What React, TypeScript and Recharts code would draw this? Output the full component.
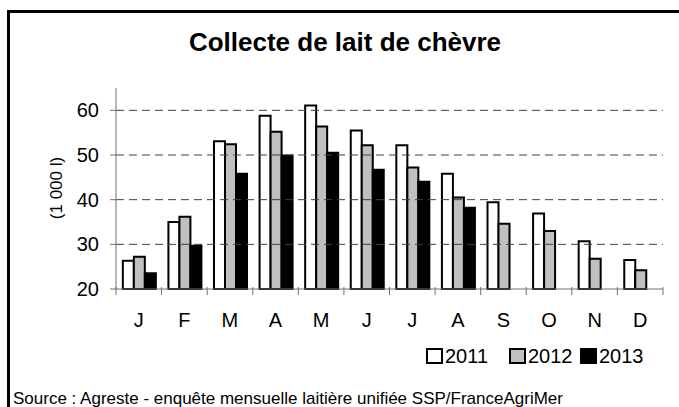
import { BarChart, Bar, XAxis, YAxis, ReferenceLine, Label } from 'recharts';

const months = ['J', 'F', 'M', 'A', 'M', 'J', 'J', 'A', 'S', 'O', 'N', 'D'];
const values2011 = [26.3, 35.0, 53.1, 58.8, 61.1, 55.5, 52.2, 45.8, 39.4, 36.9, 30.7, 26.5];
const values2012 = [27.2, 36.2, 52.4, 55.2, 56.4, 52.2, 47.2, 40.5, 34.6, 33.0, 26.8, 24.2];
const values2013 = [23.5, 29.7, 45.8, 49.9, 50.5, 46.7, 44.0, 38.2, null, null, null, null];
const yTicks = [20, 30, 40, 50, 60];
const gridValues = [30, 40, 50, 60];

const series = [
  { key: 'y2011', name: '2011', color: '#ffffff' },
  { key: 'y2012', name: '2012', color: '#c0c0c0' },
  { key: 'y2013', name: '2013', color: '#000000' },
];

const data = months.map((m, i) => ({
  month: m,
  y2011: values2011[i],
  y2012: values2012[i],
  y2013: values2013[i],
}));

const font = '"Liberation Sans", Arial, sans-serif';
const legendLeft = [426, 509, 580];
const axisColor = '#707070';
const labelMargin = 24;

// month label + tick mark on the left edge of each band (and the right edge of the last one)
const MonthTick = (props: any) => {
  const { x, y, payload, index, visibleTicksCount, width } = props;
  const half = payload.offset ?? width / visibleTicksCount / 2;
  const axisY = y - labelMargin;
  const edges = [x - half];
  if (index === visibleTicksCount - 1) edges.push(x + half);
  return (
    <g>
      {edges.map((ex) => (
        <line key={ex} x1={ex} x2={ex} y1={axisY - 2} y2={axisY + 6} stroke={axisColor} />
      ))}
      <text x={x} y={y} dy="0.71em" textAnchor="middle" fontSize={20} fontFamily={font} fill="#000">
        {payload.value}
      </text>
    </g>
  );
};

export default function App() {
  return (
    <div style={{ position: 'absolute', left: 0, top: 0, width: 679, height: 407, overflow: 'hidden', background: '#fff', fontFamily: font }}>
      <div style={{ position: 'absolute', left: 7, top: 10, width: 720, height: 450, borderLeft: '3px solid #000', borderTop: '3px solid #000' }} />
      <div style={{ position: 'absolute', left: 145, top: 29, width: 400, textAlign: 'center', fontSize: 26, lineHeight: '26px', fontWeight: 'bold', color: '#000' }}>
        Collecte de lait de chèvre
      </div>
      <div style={{ position: 'absolute', left: 0, top: 0 }}>
        <BarChart
          width={679}
          height={407}
          data={data}
          margin={{ top: 88, right: 16, bottom: 58, left: 0 }}
          barCategoryGap="15%"
          barGap={0}
        >
          <XAxis
            dataKey="month"
            axisLine={{ stroke: axisColor }}
            tickLine={false}
            tickSize={0}
            tickMargin={labelMargin}
            height={60}
            interval={0}
            tick={<MonthTick />}
          />
          <YAxis
            domain={[20, 65]}
            ticks={yTicks}
            width={116}
            tickSize={6}
            tickMargin={11}
            axisLine={{ stroke: axisColor }}
            tickLine={{ stroke: axisColor }}
            tick={{ fill: '#000', fontSize: 20, fontFamily: font }}
          >
            <Label
              content={() => (
                <text
                  x={56}
                  y={188}
                  transform="rotate(-90 56 188)"
                  textAnchor="middle"
                  dominantBaseline="central"
                  fontSize={17}
                  fontFamily={font}
                  fill="#000"
                >
                  (1 000 l)
                </text>
              )}
            />
          </YAxis>
          {gridValues.map((v) => (
            <ReferenceLine key={v} y={v} stroke="#404040" strokeDasharray="8 5" />
          ))}
          {series.map((s) => (
            <Bar key={s.key} dataKey={s.key} name={s.name} fill={s.color} stroke="#000" strokeWidth={2} isAnimationActive={false} />
          ))}
        </BarChart>
      </div>
      {series.map((s, i) => (
        <div key={s.key} style={{ position: 'absolute', left: legendLeft[i], top: 346, height: 20, display: 'flex', alignItems: 'center' }}>
          <span style={{ display: 'inline-block', width: 13, height: 12, background: s.color, border: '2px solid #000', marginRight: 2 }} />
          <span style={{ fontSize: 20, lineHeight: '20px', color: '#000' }}>{s.name}</span>
        </div>
      ))}
      <div style={{ position: 'absolute', left: 13, top: 390, fontSize: 17, lineHeight: '17px', color: '#000', whiteSpace: 'nowrap' }}>
        Source : Agreste - enquête mensuelle laitière unifiée SSP/FranceAgriMer
      </div>
    </div>
  );
}
